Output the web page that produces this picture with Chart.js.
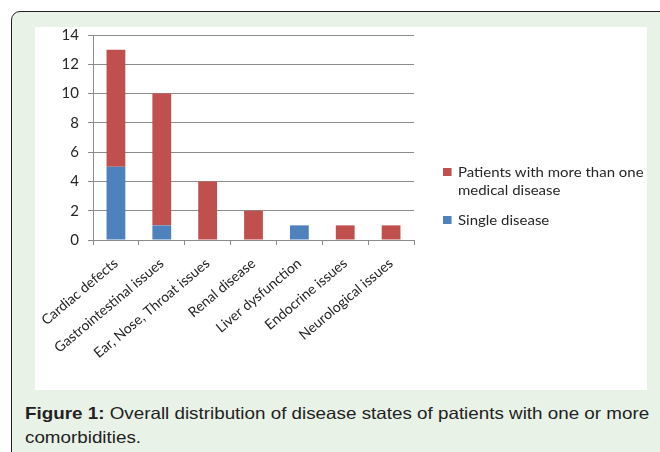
<!DOCTYPE html>
<html>
<head>
<meta charset="utf-8">
<script src="https://cdn.jsdelivr.net/npm/chart.js@4/dist/chart.umd.min.js"></script>
<style>
  html, body { margin: 0; padding: 0; background: #ffffff; }
  body { width: 660px; height: 452px; overflow: hidden; position: relative; }
  #frame {
    position: absolute; left: 11px; top: 11px; width: 720px; height: 520px;
    background: #e9f2e7; border: 1.5px solid #222; border-radius: 9px; box-sizing: border-box;
  }
  #panel {
    position: absolute; left: 35px; top: 27px; width: 612px; height: 363px; background: #ffffff;
  }
  #panel canvas { position: absolute; left: 0; top: -10px; }
  #legend {
    position: absolute; left: 408px; top: 136px; font-family: Lato, "Open Sans", sans-serif;
    font-size: 14px; color: #262626; line-height: 18px;
    transform: scaleX(1.07); transform-origin: 0 0;
  }
  .item { position: relative; padding-left: 14px; margin-bottom: 12px; }
  .swatch { position: absolute; left: 0; top: 5px; width: 8px; height: 8px; }
  #caption {
    position: absolute; left: 25px; top: 401px; width: 560px;
    font-family: "Liberation Sans", Arial, sans-serif; font-size: 16.5px; line-height: 24px; color: #222;
    transform: scaleX(1.14); transform-origin: 0 0;
  }
</style>
</head>
<body>
<div id="frame"></div>
<div id="panel"><canvas id="chart" width="612" height="373"></canvas><div id="legend"></div></div>
<div id="caption"><b>Figure 1:</b> Overall distribution of disease states of patients with one or more comorbidities.</div>
<script>
const categories = [
  "Cardiac defects",
  "Gastrointestinal issues",
  "Ear, Nose, Throat issues",
  "Renal disease",
  "Liver dysfunction",
  "Endocrine issues",
  "Neurological issues"
];
const singleDisease = [5, 1, 0, 0, 1, 0, 0];
const multipleDisease = [8, 9, 4, 2, 0, 1, 1];
const yTicks = [0, 2, 4, 6, 8, 10, 12, 14];

const seriesNames = ["Patients with more than one medical disease", "Single disease"];
const legendLines = [["Patients with more than one", "medical disease"], ["Single disease"]];
const colors = ["#c0504d", "#4f81bd"];

const fontFamily = "Lato, 'Open Sans', sans-serif";

new Chart(document.getElementById("chart"), {
  type: "bar",
  data: {
    labels: categories,
    datasets: [
      // first dataset sits at the bottom of each stack
      { label: seriesNames[1], data: singleDisease, backgroundColor: colors[1],
        barPercentage: 0.41, categoryPercentage: 1.0 },
      { label: seriesNames[0], data: multipleDisease, backgroundColor: colors[0],
        barPercentage: 0.41, categoryPercentage: 1.0 }
    ]
  },
  options: {
    responsive: false,
    animation: false,
    layout: { padding: { top: 0, right: 233, left: 0, bottom: 0 } },
    plugins: { legend: { display: false }, tooltip: { enabled: false } },
    scales: {
      x: {
        stacked: true,
        grid: { display: true, drawOnChartArea: false, drawTicks: true, tickLength: 5, color: "#8c8c8c", offset: true },
        border: { color: "#8c8c8c" },
        ticks: { minRotation: 40, maxRotation: 40, autoSkip: false, color: "#262626",
                 font: { family: fontFamily, size: 14 }, padding: 10 },
        afterFit(scale) {
          scale.height = 150;
          // rotated labels may overhang to the left; keep the plot edge fixed
          scale.paddingLeft = 0;
          scale.paddingRight = 0;
        }
      },
      y: {
        stacked: true,
        min: 0, max: 14,
        afterBuildTicks(scale) { scale.ticks = yTicks.map(v => ({ value: v })); },
        grid: { color: "#8c8c8c", tickLength: 5 },
        border: { color: "#8c8c8c" },
        ticks: { color: "#262626", font: { family: fontFamily, size: 15 }, padding: 9 },
        afterFit(scale) { scale.width = 58; }
      }
    }
  }
});

// Legend drawn beside the plot
const legend = document.getElementById("legend");
legendLines.forEach((lines, i) => {
  const item = document.createElement("div");
  item.className = "item";
  const sw = document.createElement("span");
  sw.className = "swatch";
  sw.style.background = colors[i];
  item.appendChild(sw);
  lines.forEach((line, j) => {
    if (j > 0) item.appendChild(document.createElement("br"));
    item.appendChild(document.createTextNode(line));
  });
  legend.appendChild(item);
});
</script>
</body>
</html>
